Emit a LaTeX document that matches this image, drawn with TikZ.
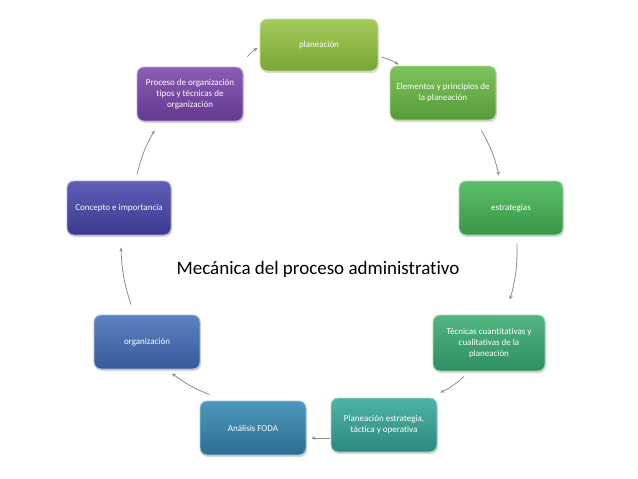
\documentclass[tikz,border=0pt]{standalone}
\usepackage{fontspec}
\setmainfont{Carlito}[Ligatures=NoCommon]
\usetikzlibrary{arrows.meta,shadows}

\definecolor{planT}{HTML}{A5CB5C}\definecolor{planB}{HTML}{78A536}
\definecolor{elemT}{HTML}{7DC35B}\definecolor{elemB}{HTML}{559A38}
\definecolor{estrT}{HTML}{5CBE6A}\definecolor{estrB}{HTML}{389646}
\definecolor{tecnT}{HTML}{52B582}\definecolor{tecnB}{HTML}{2F8E5E}
\definecolor{pestT}{HTML}{4EB2A4}\definecolor{pestB}{HTML}{2C8A7E}
\definecolor{fodaT}{HTML}{4C98BC}\definecolor{fodaB}{HTML}{2C6E92}
\definecolor{orgaT}{HTML}{5B82C2}\definecolor{orgaB}{HTML}{385A9A}
\definecolor{concT}{HTML}{5F5DB6}\definecolor{concB}{HTML}{3C3A90}
\definecolor{procT}{HTML}{8B5DB6}\definecolor{procB}{HTML}{623A8E}

\begin{document}
\begin{tikzpicture}[
  x=1pt, y=-1pt, >={Stealth[length=4pt, width=3.5pt]},
  every node/.style={font=\fontsize{9}{11}\selectfont},
  stage/.style 2 args={draw=#1!55!white, line width=0.9pt, rounded corners=7pt,
    top color=#1, bottom color=#2, text=white, align=center,
    minimum width=106pt, minimum height=54pt, inner sep=2pt,
    drop shadow={shadow xshift=1pt, shadow yshift=-2pt, opacity=0.3}},
  link/.style={->, gray!90, line width=0.8pt},
]
\useasboundingbox (0,0) rectangle (638,479);
\node[stage={planT}{planB}, minimum width=118pt, minimum height=52pt] (plan) at (319,45) {planeación};
\node[stage={elemT}{elemB}] (elem) at (443,93) {Elementos y principios de\\la planeación};
\node[stage={estrT}{estrB}, minimum width=104pt] (estr) at (511,208) {estrategias};
\node[stage={tecnT}{tecnB}, minimum width=112pt, minimum height=56pt] (tecn) at (489,343)
  {Técnicas cuantitativas y\\cualitativas de la\\planeación};
\node[stage={pestT}{pestB}] (pest) at (384,425) {Planeación estrategia,\\táctica y operativa};
\node[stage={fodaT}{fodaB}] (foda) at (253,428) {Análisis FODA};
\node[stage={orgaT}{orgaB}] (orga) at (147,342) {organización};
\node[stage={concT}{concB}, minimum width=104pt] (conc) at (119,208) {Concepto e importancia};
\node[stage={procT}{procB}] (proc) at (190,94) {Proceso de organización\\tipos y técnicas de\\organización};
\node[font=\fontsize{19}{22}\selectfont] (title) at (318,269) {Mecánica del proceso administrativo};
\draw[link] ([shift={(3,12)}]plan.east) to[bend left=8] ([shift={(9,-1)}]elem.north west);
\draw[link] ([shift={(-15,10)}]elem.south east) to[bend left=8] ([shift={(-12,-5)}]estr.north);
\draw[link] ([shift={(6,8)}]estr.south) to[bend left=8] ([shift={(21,-15)}]tecn.north);
\draw[link] ([shift={(-25,5)}]tecn.south) to[bend left=8] ([shift={(3,-5)}]pest.north east);
\draw[link] ([shift={(-1,13)}]pest.west) -- ([shift={(5,10)}]foda.east);
\draw[link] ([shift={(10,-6)}]foda.north west) to[bend left=8] ([shift={(25,4)}]orga.south);
\draw[link] ([shift={(-16,-10)}]orga.north) to[bend left=8] ([shift={(2,12)}]conc.south);
\draw[link] ([shift={(18,-6)}]conc.north) to[bend left=8] ([shift={(18,9)}]proc.south west);
\draw[link] ([shift={(4,-10)}]proc.north east) to[bend left=8] ([shift={(-2,3)}]plan.west);
\end{tikzpicture}
\end{document}
